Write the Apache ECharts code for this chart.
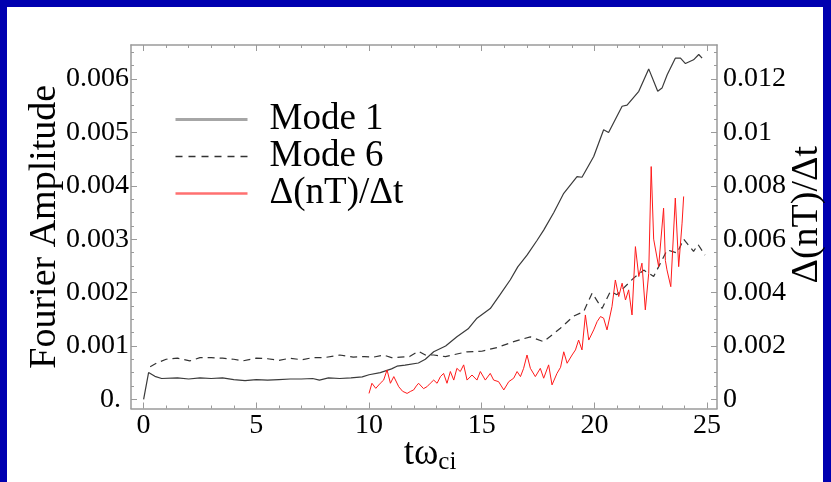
<!DOCTYPE html>
<html>
<head>
<meta charset="utf-8">
<script src="https://cdn.jsdelivr.net/npm/echarts@6/dist/echarts.min.js"></script>
<style>
  html, body { margin: 0; padding: 0; background: #0000b0; }
  #chart { width: 831px; height: 482px; }
</style>
</head>
<body>
<div id="chart"></div>
<script>
// ---- data ----
const mode1T = [0, 0.22, 0.5, 0.8, 1.5, 2.0, 2.5, 3.0, 3.5, 4.0, 4.5, 5.0, 5.5, 6.0, 6.5, 7.0, 7.5, 7.8, 8.2, 8.7, 9.2, 9.7, 10.0, 10.5, 11.0, 11.24, 11.6, 12.19, 12.5, 12.87, 13.4, 13.9, 14.4, 14.79, 15.38, 15.8, 16.27, 16.6, 17.01, 17.46, 17.75, 18.2, 18.64, 19.23, 19.45, 19.97, 20.41, 20.63, 21.23, 21.45, 21.97, 22.41, 22.81, 23.0, 23.23, 23.59, 23.82, 24.04, 24.4, 24.63, 24.78];
const mode1V = [0, 0.0005, 0.00043, 0.00039, 0.0004, 0.00038, 0.0004, 0.00039, 0.0004, 0.00037, 0.00035, 0.00037, 0.00036, 0.00037, 0.00038, 0.00038, 0.00039, 0.00036, 0.0004, 0.00039, 0.0004, 0.00042, 0.00046, 0.0005, 0.00057, 0.00062, 0.00064, 0.00068, 0.00075, 0.00089, 0.001, 0.00117, 0.00132, 0.00152, 0.0017, 0.00195, 0.00224, 0.00248, 0.0027, 0.00298, 0.00317, 0.0035, 0.00386, 0.00417, 0.00416, 0.00455, 0.00505, 0.005, 0.00549, 0.00551, 0.00577, 0.00619, 0.00577, 0.00583, 0.00608, 0.00639, 0.00639, 0.00629, 0.00636, 0.00646, 0.00639];

const mode6T = [0.29, 0.59, 1.0, 1.5, 2.05, 2.5, 3.0, 3.5, 4.0, 4.4, 5.0, 5.5, 6.0, 6.5, 7.0, 7.5, 8.0, 8.7, 9.3, 9.8, 10.2, 10.65, 11.0, 11.39, 11.8, 12.2, 12.5, 12.87, 13.39, 14.35, 15.0, 15.68, 16.42, 17.16, 17.75, 18.49, 19.08, 19.52, 19.9, 20.34, 20.71, 21.0, 21.74, 22.19, 22.63, 23.23, 23.67, 23.96, 24.4, 24.6, 24.91];
const mode6V = [0.00061, 0.00068, 0.00075, 0.00077, 0.00072, 0.00078, 0.00078, 0.00077, 0.00075, 0.00072, 0.00077, 0.00076, 0.00073, 0.00077, 0.00074, 0.00078, 0.00078, 0.00083, 0.00079, 0.0008, 0.00079, 0.00083, 0.00078, 0.00079, 0.0008, 0.0009, 0.00083, 0.00083, 0.0008, 0.00089, 0.0009, 0.00097, 0.00108, 0.00117, 0.00108, 0.00133, 0.00156, 0.00164, 0.00199, 0.0017, 0.00202, 0.00196, 0.00227, 0.00242, 0.0023, 0.0028, 0.00274, 0.003, 0.00277, 0.0029, 0.0027];

const rateT = [10.0, 10.13, 10.3, 10.5, 10.65, 10.8, 10.95, 11.1, 11.32, 11.49, 11.69, 11.85, 11.98, 12.1, 12.2, 12.28, 12.42, 12.57, 12.72, 12.87, 13.02, 13.17, 13.31, 13.46, 13.61, 13.76, 13.9, 14.05, 14.2, 14.35, 14.57, 14.79, 14.94, 15.16, 15.38, 15.53, 15.75, 15.98, 16.2, 16.42, 16.57, 16.72, 16.86, 17.01, 17.16, 17.38, 17.6, 17.75, 17.97, 18.12, 18.34, 18.5, 18.64, 18.79, 19.01, 19.16, 19.3, 19.45, 19.6, 19.75, 19.97, 20.12, 20.27, 20.41, 20.56, 20.78, 20.93, 21.08, 21.23, 21.38, 21.52, 21.67, 21.82, 21.97, 22.11, 22.26, 22.41, 22.52, 22.63, 22.85, 23.07, 23.15, 23.22, 23.39, 23.45, 23.59, 23.74, 23.89, 23.96];
const rateV = [0.00022, 0.0006, 0.00041, 0.0006, 0.00072, 0.0011, 0.0006, 0.00085, 0.00047, 0.0003, 0.00022, 0.0003, 0.00035, 0.0005, 0.0006, 0.0006, 0.0004, 0.00047, 0.0006, 0.00072, 0.0006, 0.00085, 0.00097, 0.0006, 0.00104, 0.00072, 0.00116, 0.00104, 0.00129, 0.00072, 0.00091, 0.00072, 0.00104, 0.00072, 0.00097, 0.00072, 0.00066, 0.00035, 0.00066, 0.00079, 0.00104, 0.00085, 0.00116, 0.00166, 0.00116, 0.00085, 0.00116, 0.00079, 0.00129, 0.00054, 0.00097, 0.0012, 0.00178, 0.00135, 0.00166, 0.00185, 0.00222, 0.00185, 0.00316, 0.00222, 0.0026, 0.00291, 0.0031, 0.00304, 0.0026, 0.00347, 0.00447, 0.00385, 0.00435, 0.00372, 0.0041, 0.00316, 0.00572, 0.0046, 0.0051, 0.00335, 0.00472, 0.00872, 0.006, 0.00497, 0.00716, 0.0052, 0.00485, 0.00422, 0.0042, 0.00754, 0.00497, 0.0066, 0.0076];

const xMajorTicks = [0, 5, 10, 15, 20, 25];
const xMinorTicks = [1, 2, 3, 4, 6, 7, 8, 9, 11, 12, 13, 14, 16, 17, 18, 19, 21, 22, 23, 24];
const leftMajorTicks = [0, 0.001, 0.002, 0.003, 0.004, 0.005, 0.006];
const leftTickLabels = ['0.', '0.001', '0.002', '0.003', '0.004', '0.005', '0.006'];
const leftMinorTicks = [0.00025, 0.0005, 0.00075, 0.00125, 0.0015, 0.00175, 0.00225, 0.0025, 0.00275, 0.00325, 0.0035, 0.00375, 0.00425, 0.0045, 0.00475, 0.00525, 0.0055, 0.00575, 0.00625, 0.0065];
const rightMajorTicks = [0, 0.002, 0.004, 0.006, 0.008, 0.01, 0.012];
const rightTickLabels = ['0', '0.002', '0.004', '0.006', '0.008', '0.01', '0.012'];
const rightMinorTicks = [0.0005, 0.001, 0.0015, 0.0025, 0.003, 0.0035, 0.0045, 0.005, 0.0055, 0.0065, 0.007, 0.0075, 0.0085, 0.009, 0.0095, 0.0105, 0.011, 0.0115, 0.0125, 0.013];
const seriesNames = ['Mode 1', 'Mode 6', 'Δ(nT)/Δt'];

// ---- chart ----
const FONT = '"Liberation Serif", "DejaVu Serif", serif';
const frameColor = '#9a9a9a';
const X_MIN = -0.56, X_MAX = 25.44;
const YL_MIN = -0.0001725, YL_MAX = 0.0066375;
const YR_MIN = -0.000345, YR_MAX = 0.013275;
const TICK_FS = 28;

function pairs(t, v) { return t.map((x, i) => [x, v[i]]); }

function xAxisDef(pos, major, labels) {
  return {
    type: 'value', position: pos, min: X_MIN, max: X_MAX,
    nameMoveOverlap: false,
    axisLine: { show: major, onZero: false, lineStyle: { color: frameColor, width: 1.5 } },
    axisTick: { show: true, inside: true, length: major ? 6 : 3, customValues: major ? xMajorTicks : xMinorTicks, lineStyle: { color: frameColor, width: 1 } },
    axisLabel: { show: labels, customValues: xMajorTicks, fontFamily: FONT, fontSize: TICK_FS, color: '#000', margin: 3,
      formatter: v => String(Math.round(v)) },
    splitLine: { show: false }
  };
}
function yAxisDef(pos, major, labels, mn, mx, majorTicks, minorTicks, tickLabels) {
  return {
    type: 'value', position: pos, min: mn, max: mx,
    nameMoveOverlap: false,
    axisLine: { show: major, onZero: false, lineStyle: { color: frameColor, width: 1.5 } },
    axisTick: { show: true, inside: true, length: major ? 6 : 3, customValues: major ? majorTicks : minorTicks, lineStyle: { color: frameColor, width: 1 } },
    axisLabel: { show: labels, customValues: majorTicks, fontFamily: FONT, fontSize: TICK_FS, color: '#000',
      margin: pos === 'left' ? 2 : 6,
      formatter: function (v) {
        let idx = majorTicks.findIndex(m => Math.abs(m - v) < 1e-9);
        if (idx < 0) return '';
        let s = tickLabels[idx];
        if (s === '0.') return '{p|0.}';
        return s;
      },
      rich: { p: { fontFamily: FONT, fontSize: TICK_FS, color: '#000', padding: [0, 8, 0, 0] } }
    },
    splitLine: { show: false }
  };
}

const xAxes = [
  Object.assign(xAxisDef('bottom', true, true), {
    name: '{t|tω}{s|ci}', nameLocation: 'middle', nameGap: 29,
    nameTextStyle: { color: '#000', padding: [0, 0, 0, 12], rich: {
      t: { fontFamily: FONT, fontSize: 37, color: '#000', lineHeight: 37, padding: [0, 0, 3, 0] },
      s: { fontFamily: FONT, fontSize: 25, color: '#000', lineHeight: 25, verticalAlign: 'bottom' }
    } }
  }),
  xAxisDef('bottom', false, false),
  xAxisDef('top', true, false),
  xAxisDef('top', false, false)
];

const yAxes = [
  Object.assign(yAxisDef('left', true, true, YL_MIN, YL_MAX, leftMajorTicks, leftMinorTicks, leftTickLabels), {
    name: 'Fourier Amplitude', nameLocation: 'middle', nameGap: 67, nameRotate: 90,
    nameTextStyle: { fontFamily: FONT, fontSize: 38, color: '#000' }
  }),
  yAxisDef('left', false, false, YL_MIN, YL_MAX, leftMajorTicks, leftMinorTicks, leftTickLabels),
  Object.assign(yAxisDef('right', true, true, YR_MIN, YR_MAX, rightMajorTicks, rightMinorTicks, rightTickLabels), {
    name: 'Δ(nT)/Δt', nameLocation: 'middle', nameGap: 71, nameRotate: 90,
    nameTextStyle: { fontFamily: FONT, fontSize: 38, color: '#000', padding: [0, 0, 0, 24] }
  }),
  yAxisDef('right', false, false, YR_MIN, YR_MAX, rightMajorTicks, rightMinorTicks, rightTickLabels)
];

const chart = echarts.init(document.getElementById('chart'), null, { renderer: 'canvas' });
chart.setOption({
  animation: false,
  backgroundColor: '#0000b0',
  graphic: [{
    type: 'rect', z: -10, silent: true,
    shape: { x: 7, y: 7, width: 816, height: 475 },
    style: { fill: '#ffffff' }
  }],
  grid: { left: 131, right: 114, top: 45, bottom: 73.5, containLabel: false, outerBoundsMode: 'none' },
  xAxis: xAxes,
  yAxis: yAxes,
  legend: {
    orient: 'vertical', left: 174, top: 101, padding: 0, itemGap: 0,
    itemWidth: 72, itemHeight: 14,
    itemStyle: { opacity: 0 },
    textStyle: { fontFamily: FONT, fontSize: 37, color: '#000', lineHeight: 36.5, padding: [0, 0, 0, 17] },
    data: [
      { name: seriesNames[0], itemStyle: { opacity: 0 }, lineStyle: { color: '#a6a6a6', width: 3, type: 'solid' } },
      { name: seriesNames[1], itemStyle: { opacity: 0 }, lineStyle: { color: '#333', width: 1.5, type: [7, 6] } },
      { name: seriesNames[2], itemStyle: { opacity: 0 }, lineStyle: { color: '#ff7070', width: 2.5, type: 'solid' } }
    ]
  },
  series: [
    { name: seriesNames[0], type: 'line', xAxisIndex: 0, yAxisIndex: 0, symbol: 'none', showSymbol: false,
      lineStyle: { color: '#3a3a3a', width: 1.2 }, itemStyle: { color: '#3a3a3a' }, clip: false,
      data: pairs(mode1T, mode1V) },
    { name: seriesNames[1], type: 'line', xAxisIndex: 0, yAxisIndex: 0, symbol: 'none', showSymbol: false,
      lineStyle: { color: '#333', width: 1.2, type: [7, 5] }, itemStyle: { color: '#333' }, clip: false,
      data: pairs(mode6T, mode6V) },
    { name: seriesNames[2], type: 'line', xAxisIndex: 0, yAxisIndex: 2, symbol: 'none', showSymbol: false,
      lineStyle: { color: '#ff1a1a', width: 1 }, itemStyle: { color: '#ff1a1a' }, clip: false,
      data: pairs(rateT, rateV) }
  ]
});
</script>
</body>
</html>
